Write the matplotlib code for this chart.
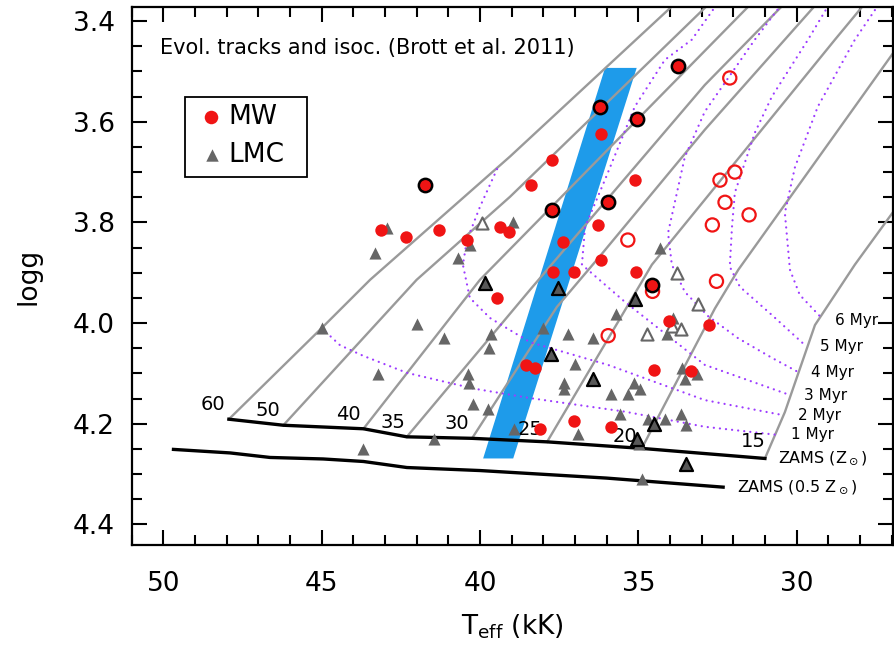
import matplotlib
matplotlib.use("Agg")
import matplotlib.pyplot as plt
from matplotlib.ticker import MultipleLocator
from matplotlib.patches import Rectangle

plt.rcParams['font.family'] = ['DejaVu Sans']
plt.rcParams['mathtext.fontset'] = 'dejavusans'

# ---------------- data ----------------
# Milky Way stars (Teff in kK, log g)
mw_teff = [43.13, 42.34, 41.28, 40.41, 39.36, 39.07, 38.39, 37.71, 36.18, 35.10,
           36.26, 37.39, 36.18, 37.69, 37.02, 35.06, 39.45, 34.03, 32.78, 38.56,
           38.26, 34.51, 33.34, 37.02, 35.87, 38.09]
mw_logg = [3.815, 3.829, 3.815, 3.835, 3.810, 3.820, 3.725, 3.675, 3.625, 3.715,
           3.805, 3.839, 3.875, 3.899, 3.899, 3.899, 3.950, 3.995, 4.004, 4.084,
           4.090, 4.094, 4.095, 4.195, 4.207, 4.210]
mw_bold_teff = [41.74, 36.21, 35.05, 33.74, 37.71, 35.97, 34.57]
mw_bold_logg = [3.725, 3.570, 3.594, 3.490, 3.775, 3.760, 3.925]
mw_open_teff = [32.11, 31.95, 32.42, 32.26, 31.50, 32.66, 35.33, 32.53, 34.55, 35.95]
mw_open_logg = [3.513, 3.700, 3.716, 3.760, 3.785, 3.805, 3.835, 3.917, 3.937, 4.025]

# LMC stars
lmc_teff = [45.00, 43.32, 42.95, 43.68, 43.21, 41.98, 41.45, 41.15, 40.69, 40.31,
            40.37, 40.34, 40.23, 39.76, 39.66, 39.73, 38.95, 38.91, 38.00, 37.22,
            36.42, 37.00, 37.33, 37.35, 35.86, 35.34, 35.13, 34.95, 35.58, 36.91,
            35.71, 34.70, 34.16, 33.65, 33.49, 33.90, 34.08, 33.61, 33.16, 33.53,
            34.89, 34.98, 34.32]
lmc_logg = [4.010, 3.861, 3.812, 4.250, 4.101, 4.002, 4.231, 4.030, 3.871, 3.844,
            4.101, 4.120, 4.161, 4.171, 4.021, 4.050, 3.800, 4.211, 4.010, 4.021,
            4.030, 4.082, 4.120, 4.131, 4.140, 4.140, 4.120, 4.130, 4.181, 4.220,
            3.982, 4.190, 4.190, 4.181, 4.202, 3.989, 4.021, 4.090, 4.102, 4.111,
            4.309, 4.241, 3.851]
lmc_bold_teff = [39.84, 37.55, 35.09, 37.77, 36.42, 34.51, 35.05, 33.49]
lmc_bold_logg = [3.921, 3.931, 3.952, 4.061, 4.111, 4.200, 4.231, 4.280]
lmc_open_teff = [39.95, 33.77, 33.11, 33.94, 33.65, 34.72]
lmc_open_logg = [3.802, 3.901, 3.962, 4.006, 4.012, 4.022]

# Evolutionary tracks (initial mass in Msun)
track_masses = ['60', '50', '40', '35', '30', '25', '20', '15']
track_teff = [
    [47.93, 45.00, 43.47, 39.05, 33.72],
    [46.21, 42.00, 39.05, 32.64],
    [43.68, 40.00, 31.32],
    [42.31, 38.42, 32.90, 30.27],
    [40.25, 37.57, 36.21, 32.90, 29.26],
    [37.88, 34.57, 32.90, 28.79, 27.75],
    [34.89, 32.58, 31.84, 26.74],
    [31.00, 30.37, 29.42, 28.16, 26.74],
]
track_logg = [
    [4.191, 4.010, 3.914, 3.669, 3.358],
    [4.203, 3.914, 3.749, 3.358],
    [4.210, 3.914, 3.358],
    [4.226, 3.934, 3.527, 3.358],
    [4.229, 3.968, 3.867, 3.616, 3.358],
    [4.236, 3.884, 3.755, 3.437, 3.358],
    [4.249, 3.971, 3.894, 3.445],
    [4.269, 4.177, 4.004, 3.884, 3.761],
]
track_label_teff = [48.44, 46.70, 44.16, 42.74, 40.74, 38.42, 35.42, 31.37]
track_label_logg = [4.161, 4.174, 4.181, 4.197, 4.199, 4.212, 4.226, 4.236]

# Isochrones
iso_labels = ['1 Myr', '2 Myr', '3 Myr', '4 Myr', '5 Myr', '6 Myr']
iso_teff = [
    [45.00, 44.42, 43.69, 42.30, 40.21, 38.42, 35.42, 32.90, 30.63],
    [39.46, 40.00, 40.41, 40.54, 40.32, 39.68, 38.42, 35.96, 32.90, 30.42],
    [32.42, 33.31, 34.16, 35.11, 36.05, 36.68, 36.78, 35.42, 32.90, 30.21],
    [30.37, 31.32, 32.90, 33.53, 34.06, 33.94, 33.53, 32.80, 31.85, 30.78, 29.96],
    [28.89, 29.64, 30.78, 31.32, 31.95, 32.04, 32.11, 31.79, 30.78, 29.68],
    [27.31, 28.16, 29.33, 30.05, 30.37, 30.21, 29.90, 29.21],
]
iso_logg = [
    [4.010, 4.044, 4.065, 4.099, 4.130, 4.149, 4.176, 4.206, 4.222],
    [3.694, 3.769, 3.835, 3.884, 3.950, 3.990, 4.038, 4.083, 4.153, 4.183],
    [3.358, 3.437, 3.477, 3.570, 3.715, 3.809, 3.884, 3.958, 4.083, 4.143],
    [3.358, 3.437, 3.580, 3.670, 3.821, 3.884, 3.938, 3.986, 4.030, 4.069, 4.097],
    [3.358, 3.437, 3.550, 3.622, 3.741, 3.809, 3.888, 3.928, 3.984, 4.047],
    [3.358, 3.437, 3.570, 3.690, 3.781, 3.894, 3.944, 3.990],
]
iso_label_teff = [30.18, 29.97, 29.77, 29.55, 29.26, 28.79]
iso_label_logg = [4.222, 4.183, 4.143, 4.098, 4.047, 3.994]

# Zero-age main sequences
zams_teff = [47.93, 46.21, 43.68, 42.31, 40.25, 37.88, 34.89, 31.00]
zams_logg = [4.191, 4.203, 4.210, 4.226, 4.229, 4.236, 4.249, 4.269]
zams_half_teff = [49.68, 47.89, 46.63, 44.95, 43.68, 42.31, 40.00, 36.00, 32.32]
zams_half_logg = [4.251, 4.258, 4.267, 4.270, 4.275, 4.287, 4.293, 4.308, 4.326]

# Shaded strip
band_teff = [36.05, 35.05, 38.95, 39.90]
band_logg = [3.493, 3.493, 4.269, 4.269]

# ---------------- figure ----------------
RED = '#f01414'
GRAY = '#666666'
TRACK = '#9a9a9a'
ISO = '#9d3cff'

fig = plt.figure(figsize=(8.94, 6.49), dpi=100)
ax = fig.add_axes([0.1473, 0.1602, 0.8521, 0.8290])
ax.set_xlim(51.0, 26.94)
ax.set_ylim(4.441, 3.372)

ax.fill(band_teff, band_logg, color='#1e9bea', lw=0, zorder=1)

for t, g in zip(track_teff, track_logg):
    ax.plot(t, g, color=TRACK, lw=1.7, zorder=2)
for t, g in zip(iso_teff, iso_logg):
    ax.plot(t, g, color=ISO, lw=1.6, ls=(0, (0.05, 2.7)), zorder=2,
            dash_capstyle='round')

ax.plot(zams_teff, zams_logg, color='k', lw=2.4, zorder=3)
ax.plot(zams_half_teff, zams_half_logg, color='k', lw=2.4, zorder=3)

for lab, t, g in zip(track_masses, track_label_teff, track_label_logg):
    ax.text(t, g, lab, fontsize=14, ha='center', va='center', zorder=4)
for lab, t, g in zip(iso_labels, iso_label_teff, iso_label_logg):
    ax.text(t, g, lab, fontsize=11, ha='left', va='center', zorder=4)
ax.text(30.58, 4.268, r'ZAMS (Z$_\odot$)', fontsize=11.5, ha='left', va='center')
ax.text(31.89, 4.326, r'ZAMS (0.5 Z$_\odot$)', fontsize=11.5, ha='left', va='center')

# stars
ax.scatter(lmc_teff, lmc_logg, marker='^', s=76, color=GRAY, lw=0, zorder=5)
ax.scatter(lmc_open_teff, lmc_open_logg, marker='^', s=76, facecolors='white',
           edgecolors=GRAY, linewidths=1.5, zorder=5)
ax.scatter(lmc_bold_teff, lmc_bold_logg, marker='^', s=88, facecolors='#585858',
           edgecolors='black', linewidths=1.6, zorder=6)
ax.scatter(mw_teff, mw_logg, marker='o', s=80, color=RED, lw=0, zorder=7)
ax.scatter(mw_open_teff, mw_open_logg, marker='o', s=90, facecolors='none',
           edgecolors=RED, linewidths=1.6, zorder=7)
ax.scatter(mw_bold_teff, mw_bold_logg, marker='o', s=92, facecolors=RED,
           edgecolors='black', linewidths=1.8, zorder=8)

ax.text(0.037, 0.924, 'Evol. tracks and isoc. (Brott et al. 2011)',
        transform=ax.transAxes, fontsize=15, ha='left', va='center')

# legend box
ax.add_patch(Rectangle((0.070, 0.684), 0.160, 0.1487, transform=ax.transAxes,
                       facecolor='white', edgecolor='black', lw=1.3, zorder=9))
ax.scatter([0.1041], [0.7955], transform=ax.transAxes, marker='o', s=95,
           color=RED, lw=0, zorder=10)
ax.scatter([0.1054], [0.7249], transform=ax.transAxes, marker='^', s=80,
           color=GRAY, lw=0, zorder=10)
ax.text(0.1264, 0.7955, 'MW', transform=ax.transAxes, fontsize=19,
        ha='left', va='center', zorder=10)
ax.text(0.1264, 0.7249, 'LMC', transform=ax.transAxes, fontsize=19,
        ha='left', va='center', zorder=10)

ax.xaxis.set_major_locator(MultipleLocator(5))
ax.xaxis.set_minor_locator(MultipleLocator(1))
ax.yaxis.set_major_locator(MultipleLocator(0.2))
ax.yaxis.set_minor_locator(MultipleLocator(0.05))
ax.yaxis.set_major_formatter(plt.FormatStrFormatter('%.1f'))
ax.tick_params(which='both', direction='in', top=True, right=True, width=1.5)
ax.tick_params(which='major', length=11, labelsize=19)
ax.tick_params(axis='x', which='major', pad=19)
ax.tick_params(axis='y', which='major', pad=12)
ax.tick_params(which='minor', length=7)
for s in ax.spines.values():
    s.set_linewidth(1.6)

ax.set_xlabel(r'T$_{\rm eff}$ (kK)', fontsize=19, labelpad=11)
ax.set_ylabel('logg', fontsize=19, labelpad=23)

fig.savefig('out.png', dpi=100)
